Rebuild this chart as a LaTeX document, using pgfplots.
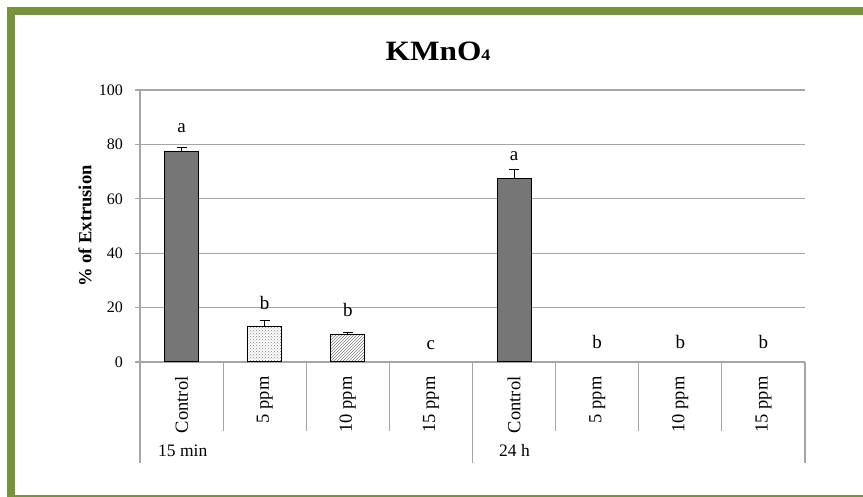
\documentclass[border=0pt]{standalone}
\usepackage{fontspec}
\setmainfont{Liberation Serif}
\newfontfamily\titlefont{Liberation Serif}[FakeStretch=1.12]
\usepackage{pgfplots}
\pgfplotsset{compat=1.18}
\usetikzlibrary{patterns}
\definecolor{frame}{RGB}{119,146,60}
\definecolor{bardark}{RGB}{118,118,118}
\definecolor{gridc}{RGB}{165,165,165}

\begin{document}
\begin{tikzpicture}
\useasboundingbox (0,0) rectangle (863pt,497pt);
\fill[white] (0,0) rectangle (863pt,497pt);
\fill[frame] (7pt,0) rectangle (15pt,489.5pt);
\fill[frame] (7pt,481.5pt) rectangle (863pt,489.5pt);
\fill[frame] (7pt,0) rectangle (863pt,1.8pt);
\begin{axis}[
 at={(140pt,135pt)}, anchor=south west,
 width=665pt, height=272pt, scale only axis,
 xmin=-0.5, xmax=7.5, ymin=0, ymax=100,
 ytick={0,20,...,100},
 xtick={0,...,7},
 xticklabels={Control,5 ppm,10 ppm,15 ppm,Control,5 ppm,10 ppm,15 ppm},
 axis x line*=bottom, axis y line*=left,
 axis line style={draw=gridc, line width=1.2pt, -},
 ymajorgrids, grid style={draw=gridc, line width=1.2pt},
 xtick style={draw=none},
 ytick style={draw=gridc, line width=1.2pt},
 tick align=outside, major tick length=5pt,
 /pgf/number format/assume math mode=true,
 yticklabel style={font=\fontsize{16}{18}\selectfont, xshift=-8.5pt},
 xticklabel style={font=\fontsize{18.5}{20}\selectfont, rotate=90, anchor=east},
 xticklabel shift=6pt,
 ylabel={\% of Extrusion},
 ylabel style={font=\bfseries\fontsize{18.5}{20}\selectfont, at={(axis description cs:-0.0827,0.5)}, anchor=center},
 clip=false,
]
\addplot[ybar, bar width=34pt, bar shift=0pt, fill=bardark, draw=black, line width=1pt,
  error bars/.cd, y dir=plus, y explicit,
  error bar style={black, line width=1pt},
  error mark options={rotate=90, black, mark size=5pt, line width=1pt}]
  coordinates {(0,77.5) +- (0,1.3) (4,67.5) +- (0,3.3)};
\addplot[ybar, bar width=34pt, bar shift=0pt, pattern=crosshatch dots, pattern color=gray, draw=black, line width=1pt,
  error bars/.cd, y dir=plus, y explicit,
  error bar style={black, line width=1pt},
  error mark options={rotate=90, black, mark size=5pt, line width=1pt}]
  coordinates {(1,13.0) +- (0,2.3)};
\addplot[ybar, bar width=34pt, bar shift=0pt, pattern=north east lines, pattern color=gray, draw=black, line width=1pt,
  error bars/.cd, y dir=plus, y explicit,
  error bar style={black, line width=1pt},
  error mark options={rotate=90, black, mark size=5pt, line width=1pt}]
  coordinates {(2,10.2) +- (0,0.8)};
\addplot[only marks, mark=*, mark size=0pt, mark options={draw=none, fill=none},
  nodes near coords, point meta=explicit symbolic,
  every node near coord/.append style={anchor=center, inner sep=0pt, font=\fontsize{19}{21}\selectfont}]
  table[meta=lab] {
x y lab
0 86 a
1 21.8 b
2 19.2 b
3 6.3 c
4 75.5 a
5 7.4 b
6 7.4 b
7 7.4 b
};
\draw[gridc, line width=1.2pt] (axis cs:-0.5,0) -- ++(0pt,-101pt);
\draw[gridc, line width=1.2pt] (axis cs:3.5,0) -- ++(0pt,-101pt);
\draw[gridc, line width=1.2pt] (axis cs:7.5,0) -- ++(0pt,-101pt);
\draw[gridc, line width=1.2pt] (axis cs:0.5,0) -- ++(0pt,-69pt);
\draw[gridc, line width=1.2pt] (axis cs:1.5,0) -- ++(0pt,-69pt);
\draw[gridc, line width=1.2pt] (axis cs:2.5,0) -- ++(0pt,-69pt);
\draw[gridc, line width=1.2pt] (axis cs:4.5,0) -- ++(0pt,-69pt);
\draw[gridc, line width=1.2pt] (axis cs:5.5,0) -- ++(0pt,-69pt);
\draw[gridc, line width=1.2pt] (axis cs:6.5,0) -- ++(0pt,-69pt);
\end{axis}
\node[anchor=base west, inner sep=0pt, font=\fontsize{17.5}{19}\selectfont] at (158pt,40pt) {15 min};
\node[anchor=base west, inner sep=0pt, font=\fontsize{17.5}{19}\selectfont] at (499pt,40pt) {24 h};
\node[anchor=base, inner sep=0pt, font=\titlefont\bfseries\fontsize{28}{32}\selectfont] at (438pt,436pt) {KMnO{\fontsize{16}{18}\selectfont 4}};
\end{tikzpicture}
\end{document}
